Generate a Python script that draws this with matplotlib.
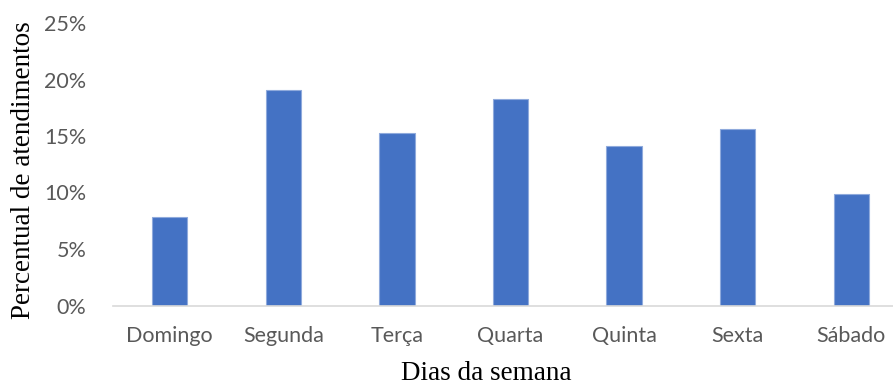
import numpy as np
import matplotlib.pyplot as plt
from matplotlib.ticker import PercentFormatter

# Dados
dias = ["Domingo", "Segunda", "Terça", "Quarta", "Quinta", "Sexta", "Sábado"]
percentual = [7.8, 19.1, 15.3, 18.3, 14.1, 15.6, 9.9]

fig = plt.figure(figsize=(8.93, 3.85), dpi=100)
ax = fig.add_axes([113 / 893, 1 - 305.5 / 385, 795 / 893, 282.5 / 385])

x = np.arange(len(dias))
ax.bar(x, percentual, width=0.31, color="#4472C4", edgecolor="#8FAADC", linewidth=0.8)

ax.set_xlim(-0.5, len(dias) - 0.5)
ax.set_ylim(0, 25)
ax.set_yticks(np.arange(0, 26, 5))
ax.yaxis.set_major_formatter(PercentFormatter(decimals=0))
ax.set_xticks(x)
ax.set_xticklabels(dias)

for s in ["top", "right", "left"]:
    ax.spines[s].set_visible(False)
ax.spines["bottom"].set_color("#D9D9D9")
ax.spines["bottom"].set_linewidth(1.2)

ax.tick_params(axis="both", length=0, labelsize=15.5, labelcolor="#595959")
for lab in ax.get_xticklabels() + ax.get_yticklabels():
    lab.set_family(["Lato", "DejaVu Sans"])
ax.tick_params(axis="x", pad=15)
ax.tick_params(axis="y", pad=19)

ax.set_xlabel("Dias da semana", family="Liberation Serif", fontsize=19.5, va="center")
ax.xaxis.set_label_coords(0.469, -67.5 / 282.5)
ax.set_ylabel("Percentual de atendimentos", family="Liberation Serif", fontsize=19.5, va="center")
ax.yaxis.set_label_coords(-89 / 795, 0.48)

fig.savefig("out.png", dpi=100)
